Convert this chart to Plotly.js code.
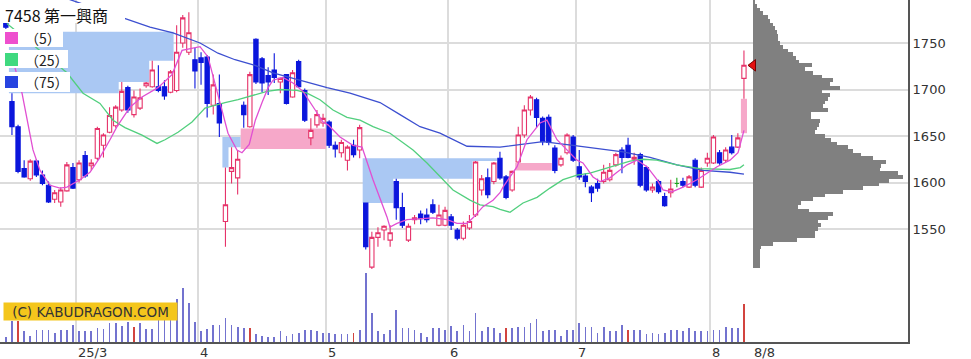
<!DOCTYPE html>
<html><head><meta charset="utf-8">
<script src="https://cdn.plot.ly/plotly-3.0.1.min.js"></script>
<style>html,body{margin:0;padding:0;background:#fff;}#chart{width:971px;height:359px;}</style>
</head><body><div id="chart"></div>
<script>
// ---------- DATA ----------
const firstIndex = -1; // trading-day index of first candle (2025-02-12)
const openP  = [1785,1687,1660,1615,1604,1623,1608,1597,1582,1579,1591,1616,1603,1629,1618,1626,1640,1654,1661,1678,1702,1673,1680,1704,1703,1703,1703,1697,1699,1750,1740,1732,1734,1735,1683,1685,1558,1612,1605,1683,1660,1754,1733,1715,1721,1708,1716,1692,1730,1699,1648,1662,1664,1665,1640,1632,1624,1640,1635,1578,1509,1541,1549,1538,1601,1573,1538,1560,1566,1565,1576,1554,1554,1563,1549,1540,1551,1565,1592,1605,1601,1626,1606,1592,1622,1651,1678,1689,1669,1670,1637,1619,1632,1649,1617,1607,1595,1599,1601,1603,1619,1635,1640,1625,1630,1616,1592,1601,1585,1589,1599,1601,1595,1624,1595,1621,1621,1632,1624,1638,1638,1712];
const highP  = [1792,1696,1662,1624,1625,1625,1613,1601,1592,1595,1622,1621,1624,1634,1625,1660,1653,1681,1683,1708,1704,1699,1701,1708,1731,1726,1710,1721,1769,1780,1783,1745,1740,1737,1716,1716,1616,1638,1635,1687,1719,1755,1735,1724,1739,1713,1716,1721,1732,1701,1669,1678,1674,1667,1644,1646,1640,1646,1662,1578,1547,1552,1554,1554,1604,1589,1556,1565,1570,1572,1582,1576,1574,1566,1551,1558,1565,1623,1608,1615,1622,1633,1608,1613,1660,1683,1694,1691,1671,1673,1640,1629,1653,1651,1635,1610,1597,1604,1619,1621,1632,1638,1648,1632,1632,1618,1599,1603,1589,1603,1605,1605,1608,1626,1616,1632,1651,1635,1638,1651,1653,1742];
const lowP   = [1762,1651,1610,1605,1602,1606,1597,1578,1578,1574,1590,1593,1600,1605,1613,1624,1627,1653,1659,1676,1675,1670,1678,1702,1702,1697,1689,1696,1697,1745,1737,1701,1705,1670,1673,1649,1531,1599,1587,1659,1659,1706,1697,1694,1707,1696,1684,1691,1702,1665,1640,1659,1660,1637,1627,1627,1613,1627,1626,1528,1507,1531,1538,1531,1560,1551,1536,1555,1555,1557,1566,1553,1553,1549,1538,1538,1549,1563,1586,1583,1598,1603,1582,1590,1621,1648,1672,1659,1640,1640,1610,1617,1630,1622,1603,1595,1579,1590,1599,1601,1617,1610,1626,1619,1595,1590,1589,1588,1574,1584,1595,1595,1594,1595,1594,1617,1620,1619,1622,1630,1637,1690];
const closeP = [1767,1660,1612,1606,1623,1608,1599,1579,1589,1592,1619,1594,1621,1607,1621,1658,1651,1672,1681,1698,1678,1692,1691,1707,1721,1699,1693,1719,1740,1777,1761,1720,1729,1685,1705,1664,1576,1616,1625,1673,1716,1708,1707,1708,1713,1712,1685,1718,1703,1667,1656,1673,1669,1640,1636,1643,1638,1630,1659,1531,1541,1546,1553,1546,1573,1554,1553,1562,1561,1560,1568,1565,1570,1554,1540,1554,1558,1622,1604,1587,1621,1605,1584,1612,1651,1678,1692,1670,1644,1643,1613,1626,1651,1624,1606,1601,1589,1594,1611,1613,1630,1627,1627,1627,1597,1592,1595,1590,1575,1593,1599,1597,1606,1597,1613,1626,1649,1621,1635,1632,1648,1726];
const volume = [5,21,21,11,6,12,12,12,9,12,12,17,11,11,11,14,13,19,19,16,20,15,19,13,13,22,22,22,43,54,39,20,11,13,17,17,24,17,15,14,14,8,6,5,5,11,6,8,9,12,12,11,9,9,8,8,8,9,12,69,29,11,8,12,32,14,14,12,9,5,14,14,12,16,11,17,11,29,11,15,14,9,14,14,15,15,19,23,11,12,12,6,12,12,19,15,15,9,15,11,11,17,12,12,12,8,9,8,9,12,12,11,14,11,11,11,12,12,15,14,14,38];
const redVolumeDays = [1,20,39,56,81,101,120];

// moving averages (day index, price)
const ma5Day  = [0,1.65,3.45,4.6,6.24,7.88,9.02,11.16,12.79,14.43,16.07,17.22,19.35,21.32,23.94,26.24,27.88,30.34,30.83,32.14,33.29,34.43,35.42,36.89,37.71,38.9,39.9,41,42,42.8,44.42,46.07,47.71,50.01,51.0,51.81,53.78,55.91,57.39,59.19,61.48,61.97,63.12,64.76,66.89,69.02,71.32,72.96,74.6,75.58,77.22,78.86,80.01,80.5,82.8,84.43,86.57,87.71,89.35,91.48,92.63,93.61,95.25,96.4,98.04,99.19,100.83,102.47,104.11,105.75,106.73,108.21,110.01,112.3,113.95,115.59,117.72,119.03,120];
const ma5Val  = [1735,1696,1635,1613,1597,1594,1595,1603,1611,1627,1646,1660,1681,1692,1702,1716,1742,1746,1746,1735,1707,1678,1653,1635,1632,1641,1667,1686,1702,1710,1713,1707,1698,1675,1665,1662,1649,1640,1638,1603,1563,1552,1556,1560,1561,1562,1560,1556,1556,1562,1574,1581,1589,1595,1617,1646,1664,1667,1646,1632,1624,1621,1606,1601,1605,1611,1619,1624,1617,1603,1592,1590,1595,1603,1610,1617,1624,1632,1656];
const ma25Day = [-0.83,9.02,11.65,14.43,16.56,18.53,21.32,23.78,25.09,27.22,29.52,31.65,32.8,34.93,37.06,39.52,41.81,43.94,46.73,48.37,50.5,52.63,54.93,57.06,59.19,61.98,65.75,68.04,70.17,72.3,75.09,76.73,78.86,80.01,81.65,83.78,86.08,88.2,90.34,92.63,94.76,96.89,99.19,101.32,103.45,105.7,109.0,112.8,117.7,119.4,120];
const ma25Val = [1771,1718,1696,1685,1667,1659,1651,1642,1646,1654,1665,1680,1682,1686,1689,1694,1698,1700,1699,1696,1689,1678,1670,1667,1660,1653,1635,1621,1606,1592,1581,1576,1574,1571,1568,1578,1584,1594,1603,1608,1610,1614,1619,1623,1625,1624,1619,1615,1614,1616,1619];
const ma75Day = [8.9,19.35,22.63,26.4,30.83,33.78,36.57,39.84,42.79,48.37,51.65,55.42,60.34,63.62,66.9,70.17,73.45,74.6,80.01,87.06,91.98,100.17,104.6,109.02,113.3,117.72,120];
const ma75Val = [1798,1775,1767,1761,1750,1739,1732,1726,1718,1708,1702,1696,1686,1673,1660,1653,1642,1639,1638,1644,1640,1633,1627,1619,1613,1611,1609];

// unfilled price gaps: [fromDay, toDay, upperPrice, lowerPrice]
const gapsDown = [[-0.5,17.5,1762,1696],[17.5,22.5,1762,1708],[22.5,26.5,1762,1731],[34.5,35.5,1649,1616],[35.5,37.5,1649,1638],[57.5,62.5,1626,1578],[62.5,75.5,1626,1604],[75.5,79.5,1626,1623]];
const gapsUp   = [[37.5,51.5,1658,1636],[82.5,88.5,1621,1613],[119.5,120.5,1690,1653]];

// price-by-volume profile
const profilePrice = [1510,1514,1518,1522,1526,1530,1534,1538,1542,1546,1550,1554,1558,1562,1566,1570,1574,1578,1582,1586,1590,1594,1598,1602,1606,1610,1614,1618,1622,1626,1630,1634,1638,1642,1646,1650,1654,1658,1662,1666,1670,1674,1678,1682,1686,1690,1694,1698,1702,1706,1710,1714,1718,1722,1726,1730,1734,1738,1742,1746,1750,1754,1758,1762,1766,1770,1774,1778,1782,1786,1790,1794];
const profileVol   = [7,7,7,7,7,8,20,44,62,62,65,68,65,75,80,56,45,48,60,72,90,110,126,136,150,145,127,128,133,120,108,100,95,84,78,72,62,64,66,67,58,58,75,70,72,75,77,69,87,77,80,69,60,52,59,46,43,40,35,30,27,25,25,24,22,20,17,15,10,7,4,2];

const monthStartDay = [11,31,52,72,93,115];
const monthLabel    = ['25/3','4','5','6','7','8'];
const lastLabel     = '8/8';
const priceTicks    = [1550,1600,1650,1700,1750];
const titleText = '7458 第一興商';
const maLabels  = ['（5）','（25）','（75）'];
const copyright = '(C) KABUDRAGON.COM';

// ---------- BUILD ----------
const days = openP.map((_, k) => firstIndex + k);
function pick(cond){
  const o={x:[],open:[],high:[],low:[],close:[]};
  days.forEach((d,k)=>{ if(cond(k)){o.x.push(d);o.open.push(openP[k]);o.high.push(highP[k]);o.low.push(lowP[k]);o.close.push(closeP[k]);}});
  return o;
}
const RED='#e6336a', BLUE='#0b16dc', GREEN='#1aa51a';
function candle(sel,col,fill){
  return Object.assign({type:'candlestick',xaxis:'x',yaxis:'y',hoverinfo:'skip',whiskerwidth:0,
    increasing:{line:{color:col,width:1.1},fillcolor:fill},decreasing:{line:{color:col,width:1.1},fillcolor:fill}},sel);
}
const lastDay = days[days.length-1];
const PW=908, PH=342, W=971, H=359;
const X = px => px/PW, Y = py => 1 - py/PH;

const traces = [
  {type:'bar',x:days,y:volume,xaxis:'x',yaxis:'y3',width:0.28,hoverinfo:'skip',
   marker:{color:days.map(d=>redVolumeDays.includes(d)?'#d2443f':'#7373cf'),line:{width:0}}},
  {type:'bar',orientation:'h',x:profileVol,y:profilePrice,xaxis:'x2',yaxis:'y',width:4,hoverinfo:'skip',
   marker:{color:'#808080',line:{width:0}}},
  candle(pick(k=>closeP[k]>openP[k]),RED,'#ffffff'),
  candle(pick(k=>closeP[k]<openP[k]),BLUE,BLUE),
  candle(pick(k=>closeP[k]===openP[k]),GREEN,GREEN),
  {type:'scatter',mode:'lines',x:ma75Day,y:ma75Val,xaxis:'x',yaxis:'y',line:{color:'#3c4fd0',width:1.3},hoverinfo:'skip'},
  {type:'scatter',mode:'lines',x:ma25Day,y:ma25Val,xaxis:'x',yaxis:'y',line:{color:'#52cf7e',width:1.3},hoverinfo:'skip'},
  {type:'scatter',mode:'lines',x:ma5Day,y:ma5Val,xaxis:'x',yaxis:'y',line:{color:'#e14fd2',width:1.3},hoverinfo:'skip'},
  {type:'scatter',mode:'markers',x:[0],y:[closeP[closeP.length-1]],xaxis:'x2',yaxis:'y',cliponaxis:false,hoverinfo:'skip',
   marker:{symbol:'triangle-left',size:10,color:'#e41010',line:{color:'#700',width:1}}}
];

// merge touching gap segments into single stepped polygons (no seams)
function gapPaths(list){
  const groups=[]; let cur=null;
  list.forEach(s=>{
    if(cur && Math.abs(cur[cur.length-1][1]-s[0])<1e-9) cur.push(s); else {cur=[s]; groups.push(cur);} });
  return groups.map(g=>{
    const pts=[];
    g.forEach(s=>{pts.push([s[0],s[2]]);pts.push([s[1],s[2]]);});
    g.slice().reverse().forEach(s=>{pts.push([s[1],s[3]]);pts.push([s[0],s[3]]);});
    return 'M'+pts.map(p=>p[0]+','+p[1]).join(' L')+' Z';
  });
}
const shapes = [];
gapPaths(gapsDown).forEach(p=>shapes.push({type:'path',xref:'x',yref:'y',path:p,fillcolor:'#aac8f3',line:{width:0},layer:'between'}));
gapPaths(gapsUp).forEach(p=>shapes.push({type:'path',xref:'x',yref:'y',path:p,fillcolor:'#f6a8c9',line:{width:0},layer:'between'}));
// title & legend backgrounds
[[0,125,3,23],[0,63,29,47],[0,68,50,68],[0,70,72,92]].forEach(b=>shapes.push({type:'rect',xref:'paper',yref:'paper',x0:X(b[0]),x1:X(b[1]),y0:Y(b[3]),y1:Y(b[2]),fillcolor:'#ffffff',line:{width:0},layer:'above'}));
const legCols=['#ee4fce','#3fd97f','#2744e0'];
[[32,44],[53,66],[76,88]].forEach((r,k)=>shapes.push({type:'rect',xref:'paper',yref:'paper',x0:X(5),x1:X(18),y0:Y(r[1]),y1:Y(r[0]),fillcolor:legCols[k],line:{width:0},layer:'above'}));

const annotations = [];
annotations.push({xref:'paper',yref:'paper',x:X(4),y:Y(15),xanchor:'left',yanchor:'middle',showarrow:false,text:titleText,
  font:{family:'Noto Sans CJK JP, DejaVu Sans',size:16,color:'#111'},borderpad:0});
[38,60,82].forEach((py,k)=>annotations.push({xref:'paper',yref:'paper',x:X(24),y:Y(py),xanchor:'left',yanchor:'middle',showarrow:false,
  text:maLabels[k],font:{family:'Noto Sans CJK JP',size:14,color:'#222'},borderpad:0}));
annotations.push({xref:'paper',yref:'paper',x:X(3),y:Y(311.5),xanchor:'left',yanchor:'middle',showarrow:false,text:copyright,
  width:173,height:17,align:'center',bgcolor:'#f4c61c',font:{family:'DejaVu Sans',size:13.5,color:'#333'},borderpad:0});
monthStartDay.forEach((d,k)=>annotations.push({xref:'x',yref:'paper',x:d-0.5,y:Y(352),xanchor:'left',yanchor:'middle',xshift:1,showarrow:false,
  text:monthLabel[k],font:{family:'DejaVu Sans',size:13,color:'#333'},borderpad:0}));
annotations.push({xref:'x',yref:'paper',x:lastDay+1.5,y:Y(352),xanchor:'left',yanchor:'middle',showarrow:false,
  text:lastLabel,font:{family:'DejaVu Sans',size:13,color:'#333'},borderpad:0});

const pxPerDay = 6.1, x0px = 11.95;           // layout scale
const pricePerPx = 1/0.93, yRef = 1750, yRefPx = 43;
const layout = {
  width:W,height:H,margin:{l:0,r:W-PW,t:0,b:H-PH,pad:0},
  paper_bgcolor:'#ffffff',plot_bgcolor:'rgba(0,0,0,0)',showlegend:false,
  boxgap:0.3,boxgroupgap:0,barmode:'overlay',bargap:0,
  xaxis:{domain:[0,1],anchor:'y',range:[(0-x0px)/pxPerDay,(PW-x0px)/pxPerDay],tickvals:monthStartDay.map(d=>d-0.5),
    showticklabels:false,ticks:'',showgrid:true,gridcolor:'#dcdcdc',gridwidth:2,zeroline:false,
    showline:true,linecolor:'#555',linewidth:1.5,rangeslider:{visible:false},fixedrange:true},
  xaxis2:{domain:[753/PW,1],anchor:'y',range:[0,155],visible:false,fixedrange:true},
  yaxis:{domain:[0,1],anchor:'x',side:'right',range:[yRef-(PH-yRefPx)*pricePerPx,yRef+yRefPx*pricePerPx],
    tickvals:priceTicks,ticks:'inside',ticklen:5,tickcolor:'#555',showgrid:true,gridcolor:'#dcdcdc',gridwidth:2,
    zeroline:false,showline:true,linecolor:'#555',linewidth:2,tickfont:{family:'DejaVu Sans',size:13,color:'#333'},fixedrange:true},
  yaxis3:{domain:[0,80/PH],anchor:'x',range:[0,80],visible:false,fixedrange:true},
  shapes:shapes,annotations:annotations
};
Plotly.newPlot('chart',traces,layout,{displayModeBar:false,staticPlot:true});
</script></body></html>
